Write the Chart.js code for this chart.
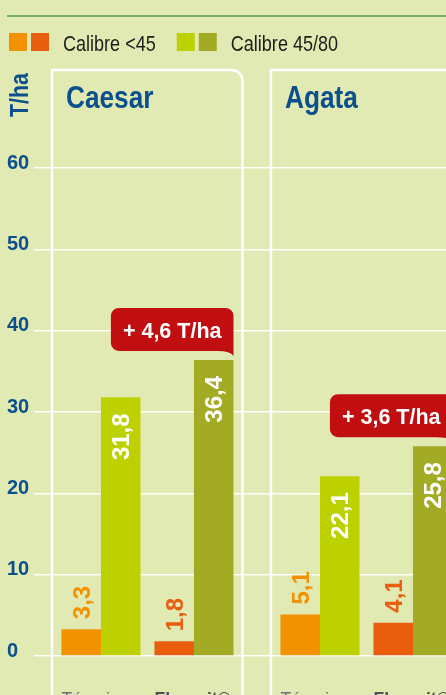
<!DOCTYPE html>
<html><head><meta charset="utf-8">
<script src="https://cdn.jsdelivr.net/npm/chart.js@4.4.1/dist/chart.umd.min.js"></script>
<style>
html,body{margin:0;padding:0;background:#e2eab4;overflow:hidden;}
canvas{display:block;}
</style></head><body>
<canvas id="c" width="446" height="720"></canvas>
<script>
// ---- data ----
const varieties = ['Caesar', 'Agata'];
const treatments = ['Témoin', 'Floravit®'];
const seriesNames = ['Calibre <45', 'Calibre 45/80'];
const calibreUnder45 = [3.3, 1.8, 5.1, 4.1];   // Caesar Témoin, Caesar Floravit, Agata Témoin, Agata Floravit
const calibre45to80 = [31.8, 36.4, 22.1, 25.8];
const gains = [4.6, 3.6];                       // printed gain per variety (T/ha)
const yTickValues = [0, 10, 20, 30, 40, 50, 60];
const yUnit = 'T/ha';

// ---- style / layout ----
const BG = '#e2eab4';
const BLUE = '#0b4f8c';
const RED = '#c10e11';
const smallColors = ['#f39200', '#e95d0f'];
const largeColors = ['#bdd000', '#a3ab24'];
const GROUP = 0.85;          // category percentage
const PANEL_SHIFT = 2.355;   // distance between the two variety panels (in treatment slots)
const xPos = varieties.flatMap((v, vi) => treatments.map((t, ti) => vi * PANEL_SHIFT + ti));

function hasFont(name){
  const c = document.createElement('canvas').getContext('2d');
  const s = 'Calibre abcdefg 0123 WMW';
  c.font = '30px monospace'; const a = c.measureText(s).width;
  c.font = `30px "${name}", monospace`; const b = c.measureText(s).width;
  return Math.abs(a - b) > 0.5;
}
const HAS_NARROW = hasFont('Liberation Sans Narrow');
const NARROW = HAS_NARROW ? '"Liberation Sans Narrow"' : '"Liberation Sans"';
const SQUEEZE = HAS_NARROW ? 1 : 0.82;
const fmt = v => v.toFixed(1).replace('.', ',');

function txt(ctx, str, x, y, o){
  ctx.save();
  ctx.translate(x, y);
  if (o.rot) ctx.rotate(o.rot);
  const sq = o.narrow ? SQUEEZE : 1;
  ctx.scale(sq, 1);
  ctx.font = `${o.weight || 'normal'} ${o.size}px ${o.narrow ? NARROW : '"Liberation Sans"'}, sans-serif`;
  ctx.fillStyle = o.color;
  ctx.textAlign = o.align || 'left';
  ctx.textBaseline = 'alphabetic';
  ctx.fillText(str, 0, o.dy || 0);
  const w = ctx.measureText(str).width * sq;
  ctx.restore();
  return w;
}

const decor = {
  id: 'decor',
  beforeDraw(chart){
    const ctx = chart.ctx;
    ctx.save();
    ctx.fillStyle = BG; ctx.fillRect(0, 0, chart.width, chart.height);
    ctx.strokeStyle = '#5a984d'; ctx.lineWidth = 1.6;
    ctx.beginPath(); ctx.moveTo(7, 16); ctx.lineTo(chart.width, 16); ctx.stroke();
    // legend: two swatches per series
    let x = 9;
    chart.data.datasets.forEach(ds => {
      const cols = [...new Set(ds.backgroundColor)];
      cols.forEach(c => { ctx.fillStyle = c; ctx.fillRect(x, 33, 18, 18); x += 22; });
      x += 10;
      const w = txt(ctx, ds.label, x, 51, {size: 22, narrow: true, color: '#1d1d1b'});
      x += w + 21;
    });
    ctx.restore();
  },
  beforeDatasetsDraw(chart){
    const ctx = chart.ctx;
    const m0 = chart.getDatasetMeta(0), m1 = chart.getDatasetMeta(1);
    const H = chart.height, top = 70, r = 11;
    ctx.save();
    ctx.strokeStyle = '#ffffff'; ctx.lineWidth = 2.5;
    varieties.forEach((name, vi) => {
      const a = m0.data[vi * 2], b = m1.data[vi * 2 + 1];
      const left = a.x - a.width / 2 - 9.5;
      const right = b.x + b.width / 2 + 9;
      ctx.beginPath();
      ctx.moveTo(left, H); ctx.lineTo(left, top);
      ctx.lineTo(right - r, top); ctx.arcTo(right, top, right, top + r, r);
      ctx.lineTo(right, H);
      ctx.stroke();
      txt(ctx, name, left + 14, 108, {size: 32, weight: 'bold', narrow: true, color: BLUE});
    });
    txt(ctx, yUnit, 28, 117, {size: 26, weight: 'bold', narrow: true, color: BLUE, rot: -Math.PI / 2});
    ctx.restore();
  },
  afterDatasetsDraw(chart){
    const ctx = chart.ctx;
    const m0 = chart.getDatasetMeta(0), m1 = chart.getDatasetMeta(1);
    const cap = 0.716 * 24;
    m0.data.forEach((bar, i) => {
      txt(ctx, fmt(calibreUnder45[i]), bar.x, bar.y - 10,
        {size: 24, weight: 'bold', color: smallColors[i % 2], rot: -Math.PI / 2, align: 'left', dy: cap / 2});
    });
    m1.data.forEach((bar, i) => {
      txt(ctx, fmt(calibre45to80[i]), bar.x, bar.y + 16,
        {size: 24, weight: 'bold', color: '#ffffff', rot: -Math.PI / 2, align: 'right', dy: cap / 2});
    });
    // gain callouts
    gains.forEach((g, vi) => {
      const bar = m1.data[vi * 2 + 1];
      const label = '+ ' + fmt(g) + ' T/ha';
      ctx.save();
      ctx.font = 'bold 21.5px "Liberation Sans", sans-serif';
      const tw = ctx.measureText(label).width;
      const w = tw + 24, h = 43, rr = 8;
      const right = bar.x + bar.width / 2, bottom = bar.y - 9, left = right - w, topY = bottom - h;
      ctx.fillStyle = RED;
      ctx.beginPath();
      ctx.moveTo(left + rr, topY);
      ctx.lineTo(right - rr, topY); ctx.arcTo(right, topY, right, topY + rr, rr);
      ctx.lineTo(right, bottom + 5);
      ctx.quadraticCurveTo(right - 3, bottom, right - 16, bottom);
      ctx.lineTo(left + rr, bottom); ctx.arcTo(left, bottom, left, bottom - rr, rr);
      ctx.lineTo(left, topY + rr); ctx.arcTo(left, topY, left + rr, topY, rr);
      ctx.closePath(); ctx.fill();
      ctx.restore();
      txt(ctx, label, left + w / 2, topY + h / 2 + 0.716 * 21.5 / 2 + 0.5, {size: 21.5, weight: 'bold', color: '#ffffff', align: 'center'});
    });
  }
};

const pts = vals => vals.map((v, i) => ({x: xPos[i], y: v}));

new Chart(document.getElementById('c'), {
  type: 'bar',
  data: {
    datasets: [
      {label: seriesNames[0], data: pts(calibreUnder45), backgroundColor: xPos.map((_, i) => smallColors[i % 2])},
      {label: seriesNames[1], data: pts(calibre45to80), backgroundColor: xPos.map((_, i) => largeColors[i % 2])}
    ]
  },
  options: {
    responsive: false,
    animation: false,
    layout: {padding: {top: 168, left: 7, right: 0, bottom: 0}},
    plugins: {legend: {display: false}, tooltip: {enabled: false}},
    datasets: {bar: {categoryPercentage: GROUP, barPercentage: 1, borderWidth: 0}},
    scales: {
      x: {
        type: 'linear', min: -0.72, max: 3.71, offset: false,
        grid: {display: false, offset: false}, border: {display: false},
        afterBuildTicks: s => { s.ticks = xPos.map(v => ({value: v - GROUP / 2})); },
        afterFit: s => { s.height = 64; s.paddingLeft = 0; s.paddingRight = 0; },
        ticks: {
          align: 'start', padding: 26, autoSkip: false, maxRotation: 0, minRotation: 0,
          callback: (v, i) => treatments[i % 2],
          font: c => ({family: NARROW, size: HAS_NARROW ? 21 : 17.5, weight: c.index % 2 ? 'bold' : 'normal'}),
          color: c => c.index % 2 ? '#505050' : '#707070'
        }
      },
      y: {
        min: 0, max: 60,
        afterBuildTicks: s => { s.ticks = yTickValues.map(v => ({value: v})); },
        afterFit: s => { s.width = 27; s.paddingTop = 0; s.paddingBottom = 0; },
        grid: {color: 'rgba(255,255,255,0.95)', lineWidth: 1.6, drawTicks: false},
        border: {display: false},
        ticks: {crossAlign: 'far', padding: 0, labelOffset: -5, color: BLUE,
                font: {family: '"Liberation Sans"', size: 20, weight: 'bold'}}
      }
    }
  },
  plugins: [decor]
});
</script>
</body></html>
